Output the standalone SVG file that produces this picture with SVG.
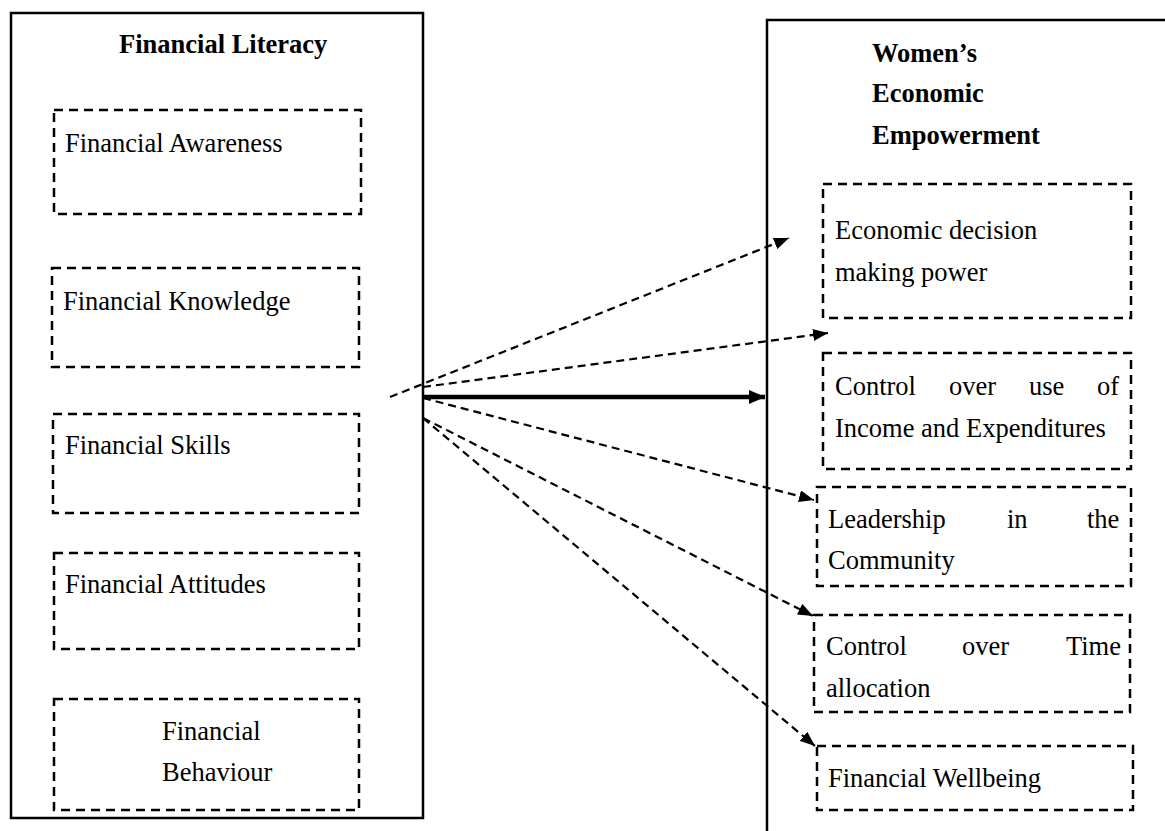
<svg xmlns="http://www.w3.org/2000/svg" width="1165" height="831" viewBox="0 0 1165 831">
<style>
.frame{fill:none;stroke:#000;stroke-width:2.5}
.dbox{fill:none;stroke:#000;stroke-width:2.5;stroke-dasharray:9 6}
.t{font-family:"Liberation Serif","Times New Roman",serif;font-size:26.5px;fill:#000}
.b{font-weight:bold}
.conn{fill:none;stroke:#000;stroke-width:2.2;stroke-dasharray:8 5}
.thick{fill:none;stroke:#000;stroke-width:4.5}
</style>
<defs>
<marker id="ah" markerUnits="userSpaceOnUse" markerWidth="16" markerHeight="12" refX="15" refY="6" orient="auto">
<path d="M0,0 L15,6 L0,12 z" fill="#000"/>
</marker>
<marker id="ahb" markerUnits="userSpaceOnUse" markerWidth="16" markerHeight="14" refX="16" refY="7" orient="auto">
<path d="M0,0 L16,7 L0,14 z" fill="#000"/>
</marker>
</defs>
<rect width="1165" height="831" fill="#fff"/>

<g id="financial-literacy">
<rect class="frame" x="11" y="13" width="412" height="805"/>
<text class="t b" x="119" y="53">Financial Literacy</text>
</g>
<g id="financial-awareness">
<rect class="dbox" x="54" y="110" width="307" height="104"/>
<text class="t" x="65" y="152">Financial Awareness</text>
</g>
<g id="financial-knowledge">
<rect class="dbox" x="52" y="268" width="307" height="99"/>
<text class="t" x="63" y="310">Financial Knowledge</text>
</g>
<g id="financial-skills">
<rect class="dbox" x="53" y="414" width="306" height="99"/>
<text class="t" x="65" y="454">Financial Skills</text>
</g>
<g id="financial-attitudes">
<rect class="dbox" x="54" y="553" width="305" height="96"/>
<text class="t" x="65" y="593">Financial Attitudes</text>
</g>
<g id="financial-behaviour">
<rect class="dbox" x="54" y="699" width="305" height="111"/>
<text class="t" x="162" y="740">Financial</text>
<text class="t" x="162" y="781">Behaviour</text>
</g>

<g id="womens-economic-empowerment">
<path class="frame" d="M767,835 L767,20 L1167,20"/>
<text class="t b" x="872" y="62">Women’s</text>
<text class="t b" x="872" y="102">Economic</text>
<text class="t b" x="872" y="144">Empowerment</text>
</g>
<g id="economic-decision">
<rect class="dbox" x="823" y="184" width="308" height="134"/>
<text class="t" x="835" y="239">Economic decision</text>
<text class="t" x="835" y="281">making power</text>
</g>
<g id="control-income">
<rect class="dbox" x="823" y="353" width="308" height="116"/>
<text class="t" y="395"><tspan x="835">Control</tspan><tspan x="949">over</tspan><tspan x="1029">use</tspan><tspan x="1097">of</tspan></text>
<text class="t" x="835" y="437">Income and Expenditures</text>
</g>
<g id="leadership">
<rect class="dbox" x="817" y="487" width="314" height="99"/>
<text class="t" y="528"><tspan x="828">Leadership</tspan><tspan x="1007">in</tspan><tspan x="1087">the</tspan></text>
<text class="t" x="828" y="569">Community</text>
</g>
<g id="control-time">
<rect class="dbox" x="814" y="615" width="316" height="97"/>
<text class="t" y="655"><tspan x="826">Control</tspan><tspan x="962">over</tspan><tspan x="1066">Time</tspan></text>
<text class="t" x="826" y="697">allocation</text>
</g>
<g id="financial-wellbeing">
<rect class="dbox" x="817" y="746" width="316" height="64"/>
<text class="t" x="828" y="787">Financial Wellbeing</text>
</g>

<g id="connectors">
<line class="thick" x1="423" y1="397" x2="765" y2="397" marker-end="url(#ahb)"/>
<line class="conn" x1="390" y1="397" x2="789" y2="238" marker-end="url(#ah)"/>
<line class="conn" x1="423" y1="387" x2="828" y2="333" marker-end="url(#ah)"/>
<line class="conn" x1="423" y1="398" x2="814" y2="500" marker-end="url(#ah)"/>
<line class="conn" x1="423" y1="418" x2="813" y2="616" marker-end="url(#ah)"/>
<line class="conn" x1="423" y1="418" x2="815" y2="746" marker-end="url(#ah)"/>
</g>
</svg>
